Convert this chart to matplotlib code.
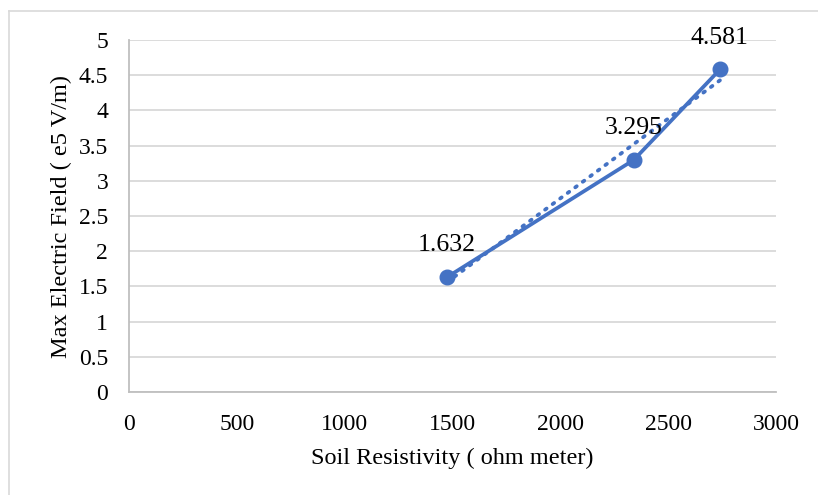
import numpy as np
import matplotlib
matplotlib.use("Agg")
import matplotlib.pyplot as plt
from matplotlib.lines import Line2D

# Measured data
resistivity = [1475, 2340, 2740]          # ohm meter
max_field = [1.632, 3.295, 4.581]         # e5 V/m
value_labels = ["1.632", "3.295", "4.581"]

x_ticks = [0, 500, 1000, 1500, 2000, 2500, 3000]
y_ticks = [0, 0.5, 1, 1.5, 2, 2.5, 3, 3.5, 4, 4.5, 5]
y_tick_labels = ["0", "0.5", "1", "1.5", "2", "2.5", "3", "3.5", "4", "4.5", "5"]

blue = "#4472C4"
grid_gray = "#D9D9D9"
serif = ["Liberation Serif", "DejaVu Serif"]

plt.rcParams["font.family"] = serif

fig = plt.figure(figsize=(8.18, 4.95), dpi=100)
ax = fig.add_axes([129 / 818, 1 - 392 / 495, (776 - 129) / 818, (392 - 40) / 495])

# chart-area border (top and left edges)
fig.add_artist(Line2D([9 / 818, 1.0], [1 - 11 / 495, 1 - 11 / 495],
                      transform=fig.transFigure, color="#D9D9D9", lw=1.2))
fig.add_artist(Line2D([9 / 818, 9 / 818], [0.0, 1 - 11 / 495],
                      transform=fig.transFigure, color="#D9D9D9", lw=1.2))

# data series
ax.plot(resistivity, max_field, color=blue, lw=2.7, marker="o", ms=10.5,
        solid_capstyle="round", zorder=4)

# linear trendline
coef = np.polyfit(resistivity, max_field, 1)
tx = np.array([resistivity[0], resistivity[-1]])
ax.plot(tx, np.polyval(coef, tx), color=blue, lw=2.7, linestyle=(0, (0.5, 2.0)),
        dash_capstyle="round", zorder=3)

# value labels
for xv, yv, lab in zip(resistivity, max_field, value_labels):
    ax.annotate(lab, (xv, yv), xytext=(0, 15), textcoords="offset points",
                ha="center", va="bottom", fontsize=18.5, color="black", zorder=5)

ax.set_xlim(0, 3000)
ax.set_ylim(0, 5)
ax.set_xticks(x_ticks)
ax.set_xticklabels([str(v) for v in x_ticks])
ax.set_yticks(y_ticks)
ax.set_yticklabels(y_tick_labels)
ax.tick_params(axis="both", length=0, labelsize=17, colors="black")
ax.tick_params(axis="x", pad=16)
ax.tick_params(axis="y", pad=15)

ax.yaxis.grid(True, color=grid_gray, lw=1.3)
ax.set_axisbelow(True)
for side in ("top", "right"):
    ax.spines[side].set_visible(False)
ax.spines["left"].set_color("#BFBFBF")
ax.spines["bottom"].set_color("#BFBFBF")
ax.spines["left"].set_linewidth(1.3)
ax.spines["bottom"].set_linewidth(1.3)

ax.set_xlabel("Soil Resistivity ( ohm meter)", fontsize=17.5, labelpad=9)
ax.set_ylabel("Max Electric Field ( e5 V/m)", fontsize=17.5, labelpad=5)

fig.savefig("out.png", dpi=100)
